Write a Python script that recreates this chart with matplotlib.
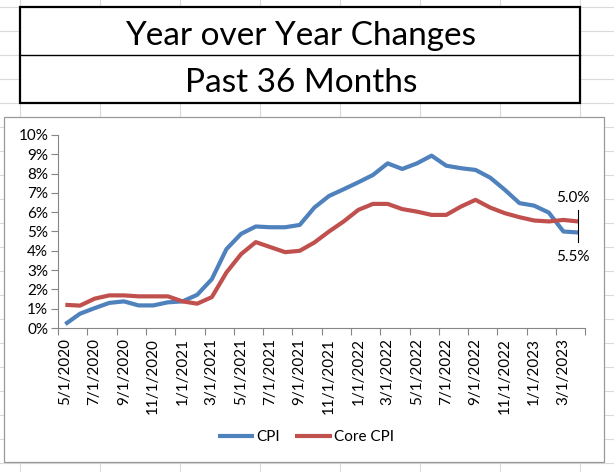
import matplotlib

matplotlib.use("Agg")
import matplotlib.pyplot as plt
from matplotlib.lines import Line2D
from matplotlib.patches import Rectangle
import numpy as np

months = [
    "5/1/2020", "6/1/2020", "7/1/2020", "8/1/2020", "9/1/2020", "10/1/2020",
    "11/1/2020", "12/1/2020", "1/1/2021", "2/1/2021", "3/1/2021", "4/1/2021",
    "5/1/2021", "6/1/2021", "7/1/2021", "8/1/2021", "9/1/2021", "10/1/2021",
    "11/1/2021", "12/1/2021", "1/1/2022", "2/1/2022", "3/1/2022", "4/1/2022",
    "5/1/2022", "6/1/2022", "7/1/2022", "8/1/2022", "9/1/2022", "10/1/2022",
    "11/1/2022", "12/1/2022", "1/1/2023", "2/1/2023", "3/1/2023", "4/1/2023",
]
cpi = [
    0.20, 0.74, 1.03, 1.30, 1.38, 1.17, 1.17, 1.33, 1.38, 1.72, 2.53, 4.09,
    4.88, 5.26, 5.22, 5.22, 5.34, 6.24, 6.84, 7.19, 7.55, 7.93, 8.53, 8.24,
    8.53, 8.93, 8.41, 8.28, 8.19, 7.79, 7.16, 6.47, 6.34, 5.98, 5.00, 4.95,
]
core_cpi = [
    1.20, 1.16, 1.52, 1.69, 1.69, 1.64, 1.64, 1.64, 1.38, 1.26, 1.60, 2.88,
    3.83, 4.45, 4.19, 3.93, 4.00, 4.43, 5.00, 5.52, 6.12, 6.43, 6.43, 6.16,
    6.03, 5.86, 5.86, 6.29, 6.64, 6.24, 5.95, 5.74, 5.57, 5.52, 5.60, 5.52,
]
end_labels = ["5.0%", "5.5%"]
title_lines = ["Year over Year Changes", "Past 36 Months"]

FONT = "Lato"
W, H = 614, 472


def fx(px):
    return px / W


def fy(py):
    return 1 - py / H


fig = plt.figure(figsize=(W / 100, H / 100), dpi=100)
fig.patch.set_facecolor("white")

# spreadsheet grid behind everything
for gx in range(20, W, 80):
    fig.add_artist(Line2D([fx(gx), fx(gx)], [0, 1], color="#dadada", lw=0.8, zorder=-5))
for gy in range(7, H, 24):
    fig.add_artist(Line2D([0, 1], [fy(gy), fy(gy)], color="#dadada", lw=0.8, zorder=-5))

# title box
fig.add_artist(Rectangle((fx(20), fy(103)), fx(580) - fx(20), fy(7) - fy(103),
                         facecolor="white", edgecolor="black", lw=1.6, zorder=-2))
fig.add_artist(Line2D([fx(20), fx(580)], [fy(55), fy(55)], color="black", lw=1.0, zorder=-1))
fig.text(fx(301), fy(36), title_lines[0], ha="center", va="center",
         fontsize=24, family=FONT)
fig.text(fx(301), fy(83), title_lines[1], ha="center", va="center",
         fontsize=24, family=FONT)

# chart area
fig.add_artist(Rectangle((fx(3.5), fy(462)), fx(604) - fx(3.5), fy(117) - fy(462),
                         facecolor="white", edgecolor="#9a9a9a", lw=0.9, zorder=-2))

ax = fig.add_axes([fx(58), fy(328), fx(585.4) - fx(58), fy(135) - fy(328)])
ax.set_facecolor("none")

x = np.arange(len(months))
ax.plot(x, cpi, color="#4F81BD", lw=3, solid_capstyle="butt", label="CPI")
ax.plot(x, core_cpi, color="#C0504D", lw=3, solid_capstyle="butt", label="Core CPI")

ax.set_xlim(-0.5, len(months) - 0.5)
ax.set_ylim(0, 10)

ax.set_yticks(range(0, 11))
ax.set_yticklabels([f"{v}%" for v in range(0, 11)], family=FONT, fontsize=11)

ax.set_xticks(x[::2])
ax.set_xticklabels(months[::2], rotation=90, family=FONT, fontsize=11)
ax.set_xticks(np.arange(-0.5, len(months), 2), minor=True)
ax.tick_params(axis="x", which="major", length=0, pad=7)
ax.tick_params(axis="x", which="minor", length=5, color="#868686", width=0.8)
ax.tick_params(axis="y", length=5, color="#868686", width=0.8, pad=2)

for side in ["top", "right"]:
    ax.spines[side].set_visible(False)
for side in ["left", "bottom"]:
    ax.spines[side].set_color("#868686")
    ax.spines[side].set_linewidth(0.8)

# end-point data labels with leader line
last = len(months) - 1
ax.plot([last, last], [6.1, 4.45], color="black", lw=0.8, clip_on=False)
ax.text(last - 0.35, 6.75, end_labels[0], ha="center", va="center",
        family=FONT, fontsize=11, clip_on=False)
ax.text(last - 0.35, 3.7, end_labels[1], ha="center", va="center",
        family=FONT, fontsize=11, clip_on=False)

fig.legend(loc="center", bbox_to_anchor=(fx(306), fy(437)), ncol=2, frameon=False,
           prop={"family": FONT, "size": 11}, handlelength=2.4, handletextpad=0.15,
           columnspacing=1.0)

fig.savefig("out.png", dpi=100)
